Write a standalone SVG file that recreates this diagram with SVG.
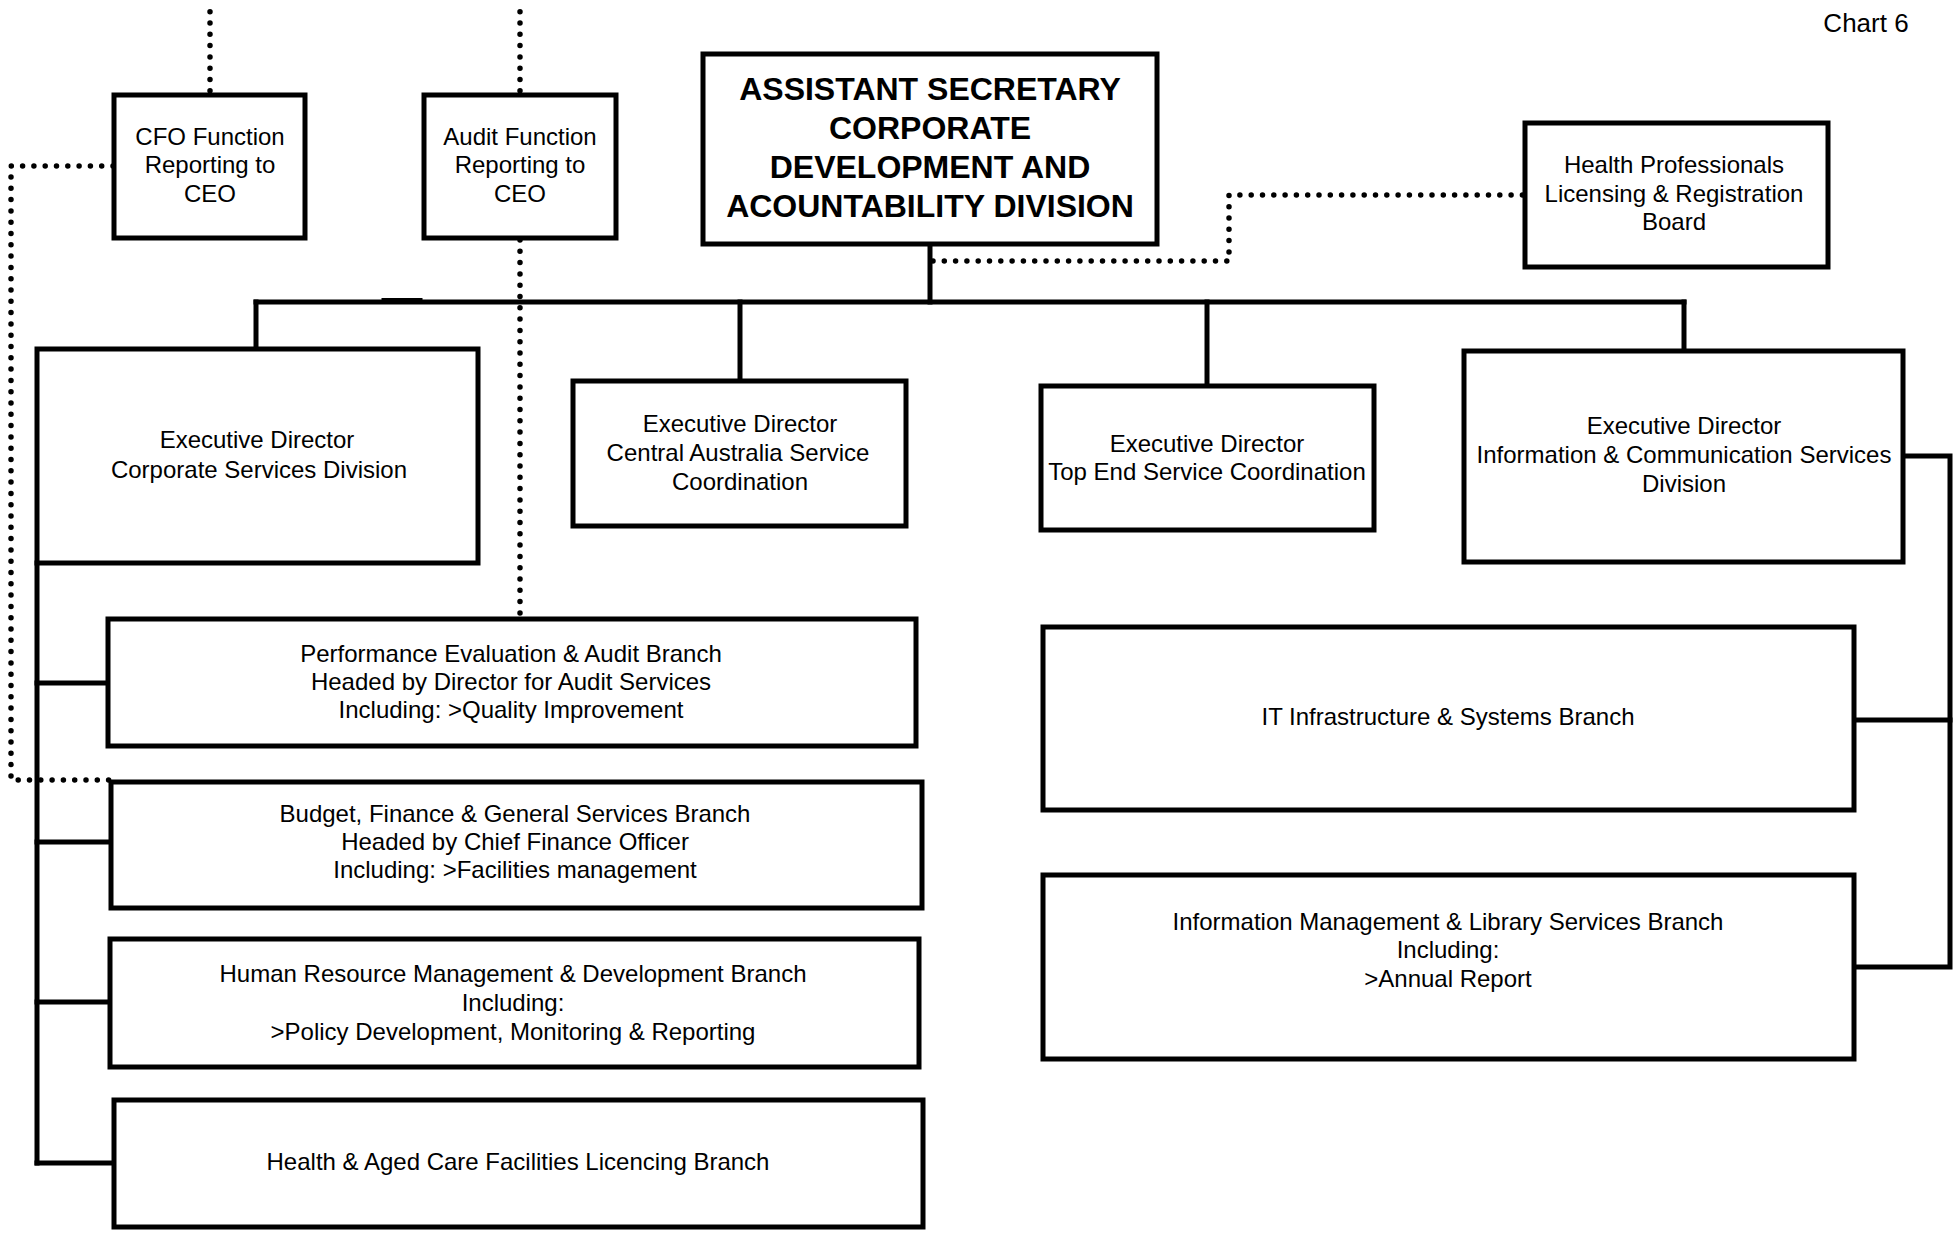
<svg xmlns="http://www.w3.org/2000/svg" width="1954" height="1235" viewBox="0 0 1954 1235">
  <style>
    .box { fill: #fff; stroke: #000; stroke-width: 5; }
    .solid { fill: none; stroke: #000; stroke-width: 5; stroke-linecap: square; }
    .dots { fill: none; stroke: #000; stroke-width: 5.5; stroke-linecap: round; stroke-dasharray: 0 11.3; }
    text { font-family: "Liberation Sans", Arial, Helvetica, sans-serif; font-size: 24px; fill: #000; text-anchor: middle; }
    .title { font-weight: bold; font-size: 32px; }
    .chart { font-size: 26px; }
  </style>
  <rect width="1954" height="1235" fill="#fff"/>

  <text class="chart" x="1866" y="32">Chart 6</text>

  <!-- reporting lines -->
  <g id="connectors">
    <path class="solid" d="M930,246 V302"/>
    <path class="solid" d="M256,302 H1684"/>
    <path class="solid" d="M384,300.5 H420" stroke-width="6"/>
    <path class="solid" d="M256,302 V349"/>
    <path class="solid" d="M740,302 V381"/>
    <path class="solid" d="M1207,302 V386"/>
    <path class="solid" d="M1684,302 V351"/>
    <!-- corporate services spine -->
    <path class="solid" d="M37,563 V1163"/>
    <path class="solid" d="M37,683 H108"/>
    <path class="solid" d="M37,842 H111"/>
    <path class="solid" d="M37,1002 H110"/>
    <path class="solid" d="M37,1163 H114"/>
    <!-- information & communication spine -->
    <path class="solid" d="M1903,456 H1950 V967 H1854"/>
    <path class="solid" d="M1854,720 H1950"/>
    <!-- dotted functional lines -->
    <path class="dots" d="M210,11.7 V93"/>
    <path class="dots" d="M520,11.7 V93"/>
    <path class="dots" d="M520,240 V617"/>
    <path class="dots" d="M113,166 H11 V780 H111"/>
    <path class="dots" d="M933,261 H1229 V195 H1525"/>
  </g>

  <g id="cfo">
    <rect class="box" x="114" y="95" width="191" height="143"/>
    <text x="210" y="145">CFO Function</text>
    <text x="210" y="173">Reporting to</text>
    <text x="210" y="202">CEO</text>
  </g>

  <g id="audit">
    <rect class="box" x="424" y="95" width="192" height="143"/>
    <text x="520" y="145">Audit Function</text>
    <text x="520" y="173">Reporting to</text>
    <text x="520" y="202">CEO</text>
  </g>

  <g id="assistant-secretary">
    <rect class="box" x="703" y="54" width="454" height="190"/>
    <text class="title" x="930" y="100">ASSISTANT SECRETARY</text>
    <text class="title" x="930" y="139">CORPORATE</text>
    <text class="title" x="930" y="178">DEVELOPMENT AND</text>
    <text class="title" x="930" y="217">ACOUNTABILITY DIVISION</text>
  </g>

  <g id="health-professionals">
    <rect class="box" x="1525" y="123" width="303" height="144"/>
    <text x="1674" y="173">Health Professionals</text>
    <text x="1674" y="202">Licensing &amp; Registration</text>
    <text x="1674" y="230">Board</text>
  </g>

  <g id="corporate-services">
    <rect class="box" x="37" y="349" width="441" height="214"/>
    <text x="257" y="448">Executive Director</text>
    <text x="259" y="478">Corporate Services Division</text>
  </g>

  <g id="central-australia">
    <rect class="box" x="573" y="381" width="333" height="145"/>
    <text x="740" y="432">Executive Director</text>
    <text x="738" y="461">Central Australia Service</text>
    <text x="740" y="490">Coordination</text>
  </g>

  <g id="top-end">
    <rect class="box" x="1041" y="386" width="333" height="144"/>
    <text x="1207" y="452">Executive Director</text>
    <text x="1207" y="480">Top End Service Coordination</text>
  </g>

  <g id="info-comm-services">
    <rect class="box" x="1464" y="351" width="439" height="211"/>
    <text x="1684" y="434">Executive Director</text>
    <text x="1684" y="463">Information &amp; Communication Services</text>
    <text x="1684" y="492">Division</text>
  </g>

  <g id="performance-audit">
    <rect class="box" x="108" y="619" width="808" height="127"/>
    <text x="511" y="662">Performance Evaluation &amp; Audit Branch</text>
    <text x="511" y="690">Headed by Director for Audit Services</text>
    <text x="511" y="718">Including: &gt;Quality Improvement</text>
  </g>

  <g id="budget-finance">
    <rect class="box" x="111" y="782" width="811" height="126"/>
    <text x="515" y="822">Budget, Finance &amp; General Services Branch</text>
    <text x="515" y="850">Headed by Chief Finance Officer</text>
    <text x="515" y="878">Including: &gt;Facilities management</text>
  </g>

  <g id="human-resources">
    <rect class="box" x="110" y="939" width="809" height="128"/>
    <text x="513" y="982">Human Resource Management &amp; Development Branch</text>
    <text x="513" y="1011">Including:</text>
    <text x="513" y="1040">&gt;Policy Development, Monitoring &amp; Reporting</text>
  </g>

  <g id="facilities-licencing">
    <rect class="box" x="114" y="1100" width="809" height="127"/>
    <text x="518" y="1170">Health &amp; Aged Care Facilities Licencing Branch</text>
  </g>

  <g id="it-infrastructure">
    <rect class="box" x="1043" y="627" width="811" height="183"/>
    <text x="1448" y="725">IT Infrastructure &amp; Systems Branch</text>
  </g>

  <g id="info-management">
    <rect class="box" x="1043" y="875" width="811" height="184"/>
    <text x="1448" y="930">Information Management &amp; Library Services Branch</text>
    <text x="1448" y="958">Including:</text>
    <text x="1448" y="987">&gt;Annual Report</text>
  </g>
</svg>
